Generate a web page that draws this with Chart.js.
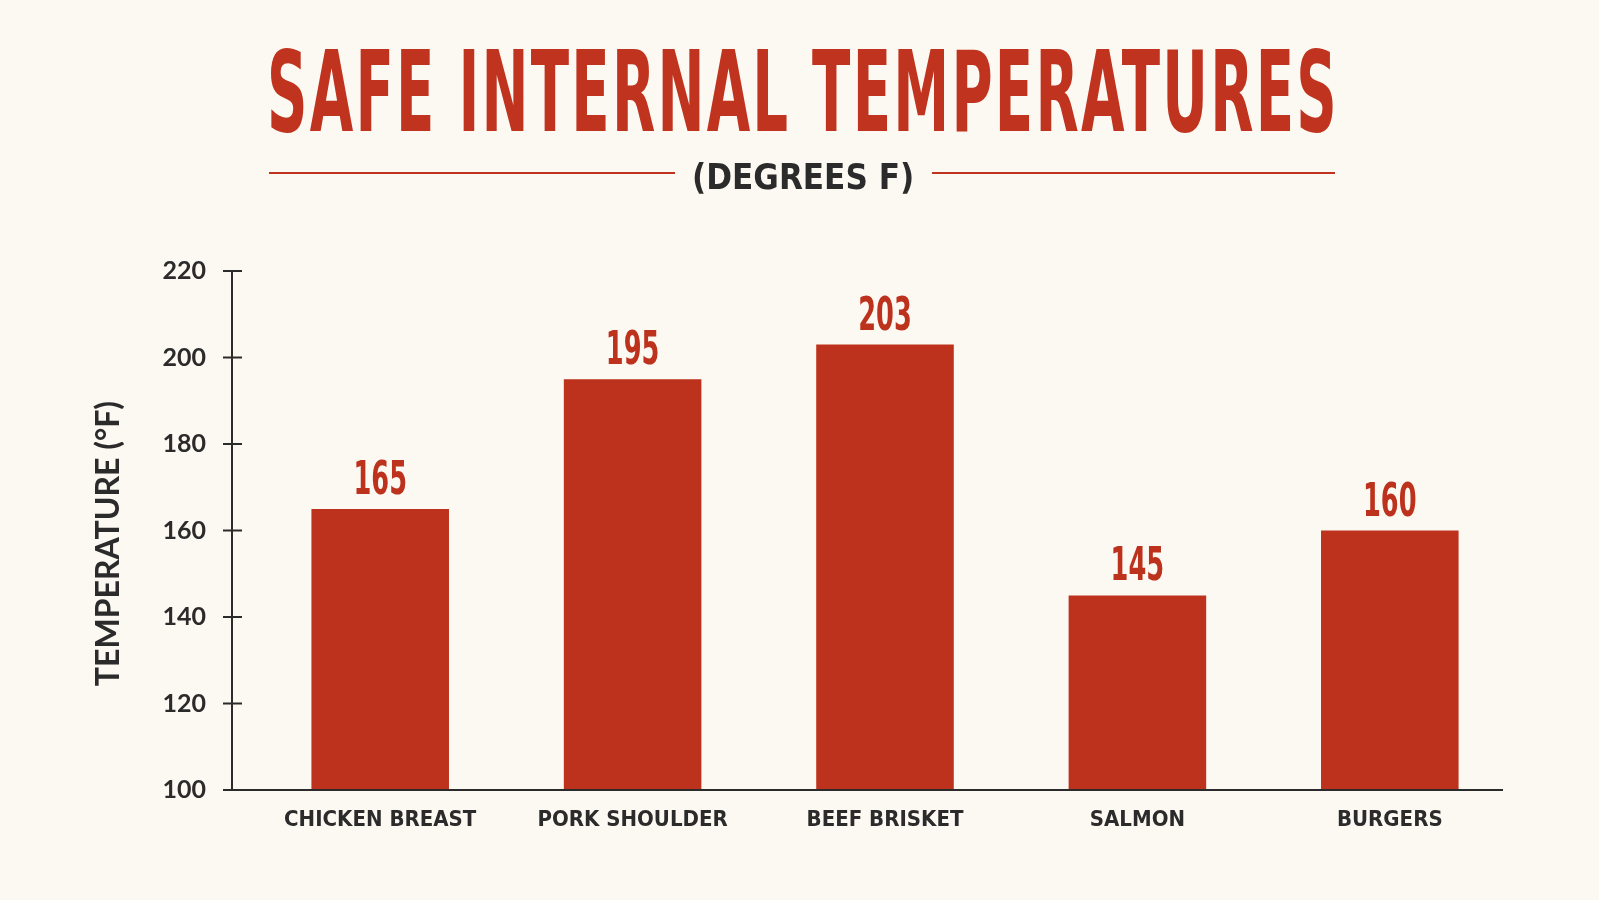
<!DOCTYPE html>
<html>
<head>
<meta charset="utf-8">
<title>Safe Internal Temperatures</title>
<script src="https://cdn.jsdelivr.net/npm/chart.js@4.4.1/dist/chart.umd.min.js"></script>
<style>
  html, body { margin: 0; padding: 0; background: #fcf8f2; }
  #wrap { position: relative; width: 1599px; height: 900px; overflow: hidden; }
  #chart { position: absolute; left: 0; top: 0; }
  .head {
    position: absolute; white-space: nowrap; font-weight: bold;
    font-family: 'Liberation Sans Narrow', 'DejaVu Sans Condensed', 'Liberation Sans', sans-serif;
    transform-origin: 0 0;
  }
  #title { color: #c0341f; font-size: 112px; line-height: 112px; top: 36px; left: 267px; letter-spacing: 4px; }
  #subtitle { color: #2b2b2b; font-size: 36px; line-height: 36px; top: 159px; left: 692px; }
  .rule { position: absolute; height: 2px; background: #c0341f; top: 172px; }
</style>
</head>
<body>
<div id="wrap">
  <canvas id="chart" width="1599" height="900"></canvas>
  <div class="rule" style="left:269px;width:406px"></div>
  <div class="rule" style="left:932px;width:403px"></div>
  <div id="title" class="head">SAFE INTERNAL TEMPERATURES</div>
  <div id="subtitle" class="head">(DEGREES F)</div>
</div>
<script>
// chart data
const categories = ['CHICKEN BREAST', 'PORK SHOULDER', 'BEEF BRISKET', 'SALMON', 'BURGERS'];
const temperatures = [165, 195, 203, 145, 160];
const yTicks = [100, 120, 140, 160, 180, 200, 220];
const yTitle = 'TEMPERATURE (°F)';

const red = '#bd321c';
const ink = '#2b2b2b';
const narrow = "'Liberation Sans Narrow', 'DejaVu Sans Condensed', 'Liberation Sans', sans-serif";

// squeeze the heading text to the width it has in the reference
function fitWidth(id, width) {
    const el = document.getElementById(id);
    el.style.transform = `scaleX(${width / el.offsetWidth})`;
}
fitWidth('title', 1072);
fitWidth('subtitle', 222);

// axis lines with crossing tick marks, drawn a little left of the plot,
// plus the rotated y axis title (sits a bit below the plot's middle)
const axisLines = {
    id: 'axisLines',
    afterDatasetsDraw(chart) {
        const { ctx, chartArea, scales } = chart;
        const y = scales.y;
        const x0 = chartArea.left - 22;
        const yTop = y.getPixelForValue(yTicks[yTicks.length - 1]);
        const yBot = y.getPixelForValue(yTicks[0]);
        ctx.save();
        ctx.strokeStyle = ink;
        ctx.lineWidth = 2;
        ctx.beginPath();
        ctx.moveTo(x0, yTop);
        ctx.lineTo(x0, yBot);
        ctx.moveTo(x0, yBot);
        ctx.lineTo(chartArea.right - 13, yBot);
        yTicks.forEach(v => {
            const py = y.getPixelForValue(v);
            ctx.moveTo(x0 - 9, py);
            ctx.lineTo(x0 + 10, py);
        });
        ctx.stroke();

        ctx.translate(109, (yTop + yBot) / 2 + 13);
        ctx.rotate(-Math.PI / 2);
        ctx.fillStyle = ink;
        ctx.font = "bold 32px Lato";
        ctx.textAlign = 'center';
        ctx.textBaseline = 'middle';
        ctx.fillText(yTitle, 0, 0);
        ctx.restore();
    }
};

// value labels above bars, condensed
const valueLabels = {
    id: 'valueLabels',
    afterDatasetsDraw(chart) {
        const { ctx } = chart;
        const meta = chart.getDatasetMeta(0);
        ctx.save();
        ctx.fillStyle = red;
        ctx.font = `bold 46px ${narrow}`;
        ctx.textAlign = 'center';
        ctx.textBaseline = 'alphabetic';
        meta.data.forEach((bar, i) => {
            ctx.save();
            ctx.translate(bar.x, bar.y - 15);
            ctx.scale(0.62, 1);
            ctx.fillText(String(temperatures[i]), 0, 0);
            ctx.restore();
        });
        ctx.restore();
    }
};

const ctx = document.getElementById('chart').getContext('2d');
const chart = new Chart(ctx, {
    type: 'bar',
    data: {
        labels: categories,
        datasets: [{
            data: temperatures,
            backgroundColor: red,
            borderWidth: 0,
            barPercentage: 0.545,
            categoryPercentage: 1
        }]
    },
    options: {
        responsive: false,
        animation: false,
        layout: { padding: { top: 271, right: 83, bottom: 0, left: 0 } },
        plugins: {
            legend: { display: false },
            tooltip: { enabled: false }
        },
        scales: {
            x: {
                grid: { display: false },
                border: { display: false },
                ticks: {
                    color: ink,
                    padding: 9,
                    maxRotation: 0,
                    font: { family: narrow, size: 22, weight: 'bold' }
                },
                afterFit: s => { s.height = 110; }
            },
            y: {
                min: yTicks[0],
                max: yTicks[yTicks.length - 1],
                grid: { display: false },
                border: { display: false },
                ticks: {
                    stepSize: yTicks[1] - yTicks[0],
                    color: ink,
                    padding: 40,
                    font: { family: 'Lato', size: 25, weight: 'bold' }
                },
                afterFit: s => { s.width = 254; }
            }
        }
    },
    plugins: [axisLines, valueLabels]
});
</script>
</body>
</html>
